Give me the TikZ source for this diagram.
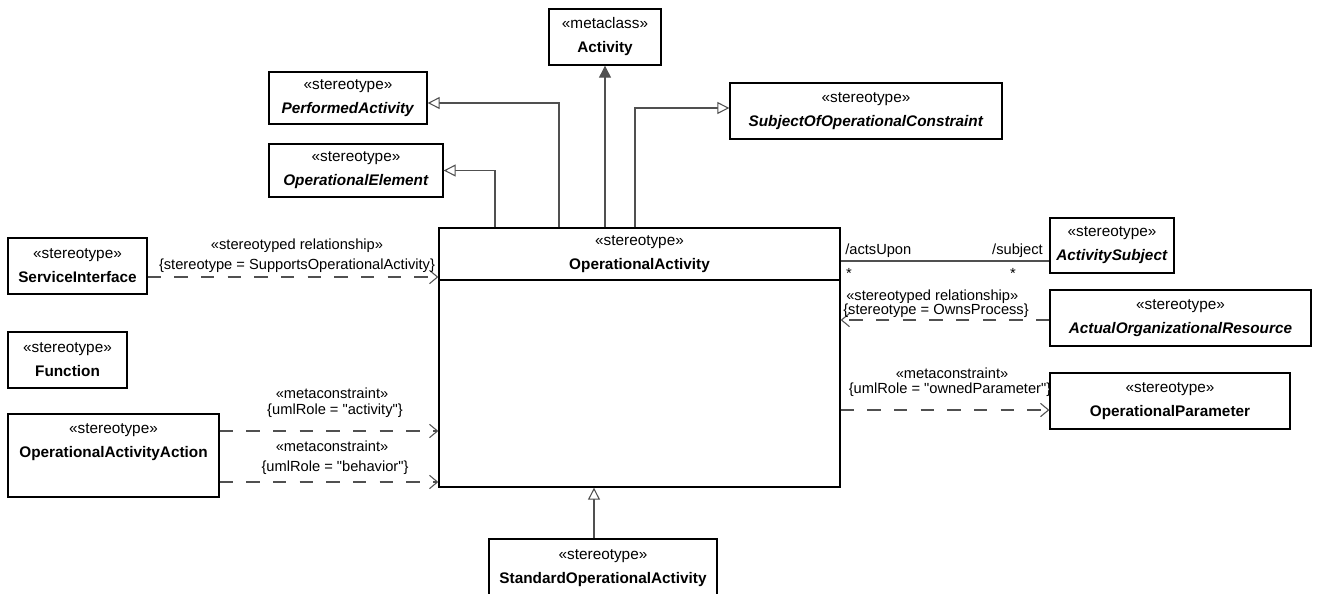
\documentclass[tikz,border=0pt]{standalone}
\usepackage{fontspec}
\setmainfont{Liberation Sans}[Ligatures=TeXOff]
\usetikzlibrary{arrows.meta}
\definecolor{linegray}{HTML}{505050}
\newdimen\px \px=0.75pt

\begin{document}
\begin{tikzpicture}[x=0.75pt, y=-0.75pt,
  box/.style={draw=black, line width=1pt, fill=white, align=center, inner sep=0pt,
    font=\fontsize{11.5}{18}\selectfont},
  lbl/.style={inner sep=0pt, align=center, font=\fontsize{11}{13}\selectfont},
  conn/.style={draw=linegray, line width=0.8pt},
  gen/.style={conn, -{Triangle[open, length=9pt, width=9pt, fill=white]}},
  ext/.style={conn, -{Triangle[length=9pt, width=9pt, fill=linegray]}},
  dep/.style={conn, dash pattern=on 10pt off 10pt, -{Straight Barb[length=6pt, width=10pt]}},
  assoc/.style={conn}]

  \useasboundingbox (0,0) rectangle (1317,593);

  % Central stereotype
  \node[box, minimum width=401\px, minimum height=259\px] (OA) at (639.5,357.5) {};
  \node[lbl, font=\fontsize{11.5}{18}\selectfont] (OAhead) at (639.5,254)
    {«stereotype»\\\textbf{OperationalActivity}};
  \draw[line width=1pt] (OA.west |- 0,280) -- (OA.east |- 0,280);

  % Boxes above
  \node[box, minimum width=112\px, minimum height=56\px] (act) at (605,37)
    {«metaclass»\\\textbf{Activity}};
  \node[box, minimum width=158\px, minimum height=52\px] (PA) at (348,98)
    {«stereotype»\\\textbf{\textit{PerformedActivity}}};
  \node[box, minimum width=174\px, minimum height=53\px] (OE) at (356,170.5)
    {«stereotype»\\\textbf{\textit{OperationalElement}}};
  \node[box, minimum width=272\px, minimum height=56\px] (SOC) at (866,111)
    {«stereotype»\\\textbf{\textit{SubjectOfOperationalConstraint}}};

  % Boxes on the left
  \node[box, minimum width=139\px, minimum height=56\px] (SI) at (77.5,266)
    {«stereotype»\\\textbf{ServiceInterface}};
  \node[box, minimum width=119\px, minimum height=56\px] (Fn) at (67.5,360)
    {«stereotype»\\\textbf{Function}};
  \node[box, minimum width=211\px, minimum height=83\px] (OAA) at (113.5,455.5) {};
  \node[lbl, font=\fontsize{11.5}{18}\selectfont] (OAAlbl) at (113.5,442)
    {«stereotype»\\\textbf{OperationalActivityAction}};

  % Boxes on the right
  \node[box, minimum width=124\px, minimum height=55\px] (AS) at (1112,245.5)
    {«stereotype»\\\textbf{\textit{ActivitySubject}}};
  \node[box, minimum width=261\px, minimum height=56\px] (AOR) at (1180.5,318)
    {«stereotype»\\\textbf{\textit{ActualOrganizationalResource}}};
  \node[box, minimum width=240\px, minimum height=56\px] (OP) at (1170,401)
    {«stereotype»\\\textbf{OperationalParameter}};

  % Box below
  \node[box, minimum width=228\px, minimum height=58\px] (SOA) at (603,568)
    {«stereotype»\\\textbf{StandardOperationalActivity}};

  % Generalizations and extension
  \draw[ext] (act.south |- OA.north) -- (act.south);
  \draw[gen] (559,0 |- OA.north) |- (PA.east |- 0,103);
  \draw[gen] (495,0 |- OA.north) |- (OE.east);
  \draw[gen] (635,0 |- OA.north) |- (SOC.west |- 0,108);
  \draw[gen] (594,0 |- SOA.north) -- (594,0 |- OA.south);

  % Stereotyped relationships
  \draw[dep] (SI.east |- 0,277) -- (OA.west |- 0,277);
  \node[lbl] (srelA) at (297,246) {«stereotyped relationship»};
  \node[lbl] (srelAc) at (297,266) {\{stereotype = SupportsOperationalActivity\}};
  \draw[dep] (AOR.west |- 0,320) -- (OA.east |- 0,320);
  \node[lbl, anchor=west] (srelB) at (846,297) {«stereotyped relationship»};
  \node[lbl, anchor=west] (srelBc) at (843,311) {\{stereotype = OwnsProcess\}};

  % Association
  \draw[assoc] (OA.east |- 0,261) -- (AS.west |- 0,261);
  \node[lbl, anchor=west] (actsUpon) at (845,251) {/actsUpon};
  \node[lbl, anchor=east] (subj) at (1043,251) {/subject};
  \node[lbl] (multA) at (849,273) {*};
  \node[lbl] (multB) at (1013,273) {*};

  % Metaconstraints
  \draw[dep] (OA.east |- 0,410) -- (OP.west |- 0,410);
  \node[lbl] (mcP) at (952,373) {«metaconstraint»};
  \node[lbl] (mcPc) at (950,390) {\{umlRole = "ownedParameter"\}};
  \draw[dep] (OAA.east |- 0,431) -- (OA.west |- 0,431);
  \node[lbl] (mcA) at (332,393) {«metaconstraint»};
  \node[lbl] (mcAc) at (335,411) {\{umlRole = "activity"\}};
  \draw[dep] (OAA.east |- 0,482) -- (OA.west |- 0,482);
  \node[lbl] (mcB) at (332,446) {«metaconstraint»};
  \node[lbl] (mcBc) at (335,468) {\{umlRole = "behavior"\}};

\end{tikzpicture}
\end{document}
